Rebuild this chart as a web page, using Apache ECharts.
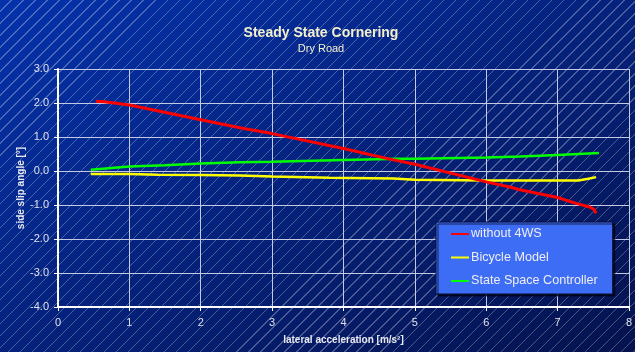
<!DOCTYPE html>
<html>
<head>
<meta charset="utf-8">
<script src="https://cdn.jsdelivr.net/npm/echarts@6/dist/echarts.min.js"></script>
<style>
  html, body { margin: 0; padding: 0; background: #fff; }
  #bg {
    position: absolute; left: 0; top: 0; width: 635px; height: 352px;
    background:
      repeating-linear-gradient(135deg, rgba(255,255,255,0) 0px, rgba(255,255,255,0) 7.6px, rgba(255,255,255,0.28) 7.6px, rgba(255,255,255,0.28) 8.5px),
      linear-gradient(to bottom right, #0432ab, #05124d);
  }
  #chart { position: absolute; left: 0; top: 0; width: 635px; height: 352px; }
</style>
</head>
<body>
<div id="bg"></div>
<div id="chart"></div>
<script>
// lateral acceleration [m/s²] vs side slip angle [°]
const redAccel = [0.53, 0.65, 1.0, 2.0, 2.62, 3.0, 4.0, 4.65, 5.0, 6.0, 6.33, 6.47, 7.0, 7.27, 7.45, 7.51, 7.54];
const redSlip = [2.05, 2.04, 1.94, 1.51, 1.24, 1.10, 0.66, 0.35, 0.20, -0.32, -0.47, -0.55, -0.78, -0.96, -1.06, -1.13, -1.24];

const yellowAccel = [0.46, 1.0, 1.4, 2.0, 2.55, 3.0, 3.8, 4.7, 5.0, 6.0, 6.47, 7.0, 7.29, 7.43, 7.54];
const yellowSlip = [-0.09, -0.09, -0.11, -0.12, -0.13, -0.16, -0.2, -0.22, -0.26, -0.28, -0.28, -0.28, -0.28, -0.23, -0.18];

const greenAccel = [0.46, 1.0, 1.5, 2.0, 2.55, 3.0, 4.0, 4.79, 5.0, 6.0, 6.47, 7.0, 7.58];
const greenSlip = [0.04, 0.13, 0.17, 0.22, 0.26, 0.27, 0.32, 0.36, 0.36, 0.40, 0.43, 0.47, 0.53];

const xTicks = [0, 1, 2, 3, 4, 5, 6, 7, 8];
const yTicks = [-4, -3, -2, -1, 0, 1, 2, 3];

const pairs = (xs, ys) => xs.map((x, i) => [x, ys[i]]);

const chart = echarts.init(document.getElementById("chart"));
chart.setOption({
  backgroundColor: "transparent",
  animation: false,
  title: {
    text: "Steady State Cornering",
    subtext: "Dry Road",
    left: 316,
    top: 21,
    textAlign: "center",
    itemGap: 3,
    textStyle: { color: "#f4f0cc", fontSize: 14, fontWeight: "bold", fontFamily: "Liberation Sans, Arial" },
    subtextStyle: { color: "#f4f0cc", fontSize: 11, fontFamily: "Liberation Sans, Arial" },
  },
  grid: { left: 58, right: 6, top: 69, bottom: 45 },
  legend: {
    orient: "vertical",
    left: 436,
    top: 222,
    padding: [5, 15, 6, 15],
    itemGap: 9.5,
    itemWidth: 18,
    itemHeight: 2,
    icon: "rect",
    backgroundColor: "#3d6cf5",
    borderColor: "#0a0f30",
    borderWidth: 1,
    shadowColor: "rgba(0,0,20,0.7)",
    shadowOffsetX: 2,
    shadowOffsetY: 2,
    textStyle: { color: "#eeeef4", fontSize: 12.6, lineHeight: 14, fontFamily: "Liberation Sans, Arial", padding: [0, 0, 0, -3] },
    data: ["without 4WS", "Bicycle Model", "State Space Controller"],
  },
  xAxis: {
    type: "value",
    min: xTicks[0],
    max: xTicks[xTicks.length - 1],
    interval: 1,
    name: "lateral acceleration [m/s²]",
    nameLocation: "middle",
    nameGap: 28,
    nameMoveOverlap: false,
    nameTextStyle: { color: "#e8e8f0", fontSize: 10, fontWeight: "bold", fontFamily: "Liberation Sans, Arial" },
    axisLine: { onZero: false, lineStyle: { color: "#ffffff", width: 2 } },
    axisTick: { show: true, length: 4, lineStyle: { color: "#ffffff" } },
    axisLabel: { color: "#e0e0ea", fontSize: 11, margin: 10, fontFamily: "Liberation Sans, Arial" },
    splitLine: { show: true, lineStyle: { color: "#c4cae2", width: 1 } },
  },
  yAxis: {
    type: "value",
    min: yTicks[0],
    max: yTicks[yTicks.length - 1],
    interval: 1,
    name: "side slip angle [°]",
    nameLocation: "middle",
    nameGap: 32,
    nameMoveOverlap: false,
    nameTextStyle: { color: "#e8e8f0", fontSize: 10, fontWeight: "bold", fontFamily: "Liberation Sans, Arial" },
    axisLine: { show: true, onZero: false, lineStyle: { color: "#ffffff", width: 2 } },
    axisTick: { show: true, length: 4, lineStyle: { color: "#ffffff" } },
    axisLabel: { color: "#e0e0ea", fontSize: 11, margin: 9, fontFamily: "Liberation Sans, Arial", formatter: (v) => v.toFixed(1) },
    splitLine: { show: true, lineStyle: { color: "#c4cae2", width: 1 } },
  },
  series: [
    {
      name: "without 4WS",
      type: "line",
      data: pairs(redAccel, redSlip),
      showSymbol: false,
      z: 4,
      itemStyle: { color: "#ff0000" },
      lineStyle: { color: "#ff0000", width: 3 },
    },
    {
      name: "Bicycle Model",
      type: "line",
      data: pairs(yellowAccel, yellowSlip),
      showSymbol: false,
      z: 3,
      itemStyle: { color: "#ffff00" },
      lineStyle: { color: "#ffff00", width: 2.5 },
    },
    {
      name: "State Space Controller",
      type: "line",
      data: pairs(greenAccel, greenSlip),
      showSymbol: false,
      z: 3,
      itemStyle: { color: "#00ff00" },
      lineStyle: { color: "#00ff00", width: 2.5 },
    },
  ],
});
</script>
</body>
</html>
